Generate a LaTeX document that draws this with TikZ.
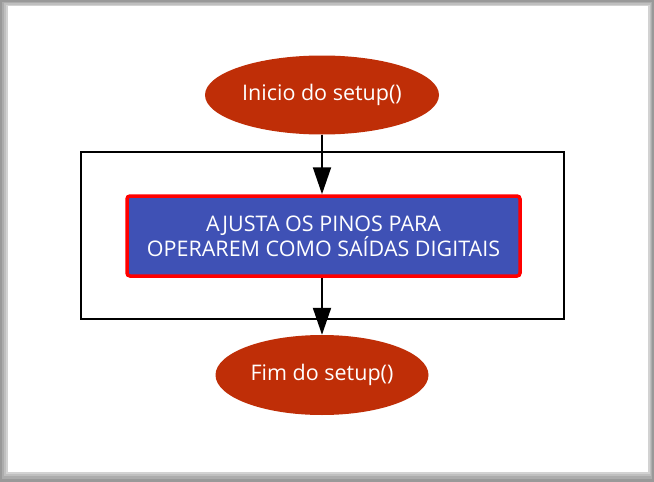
\documentclass[tikz,border=0pt]{standalone}
\usepackage{fontspec}
\setmainfont{Open Sans}
\usetikzlibrary{shapes.geometric,arrows.meta}
\definecolor{termred}{HTML}{BF2E07}
\definecolor{procblue}{HTML}{3F51B5}
\tikzset{
  terminal/.style={ellipse, fill=termred, draw=none, text=white, inner sep=0pt, font=\fontsize{21.5}{25}\selectfont},
  process/.style={rectangle, rounded corners=3pt, fill=procblue, draw=red, line width=3.5pt, text=white, inner sep=0pt, align=center, font=\fontsize{21.5}{24}\selectfont},
  flow/.style={line width=2pt, -{Triangle[length=27pt,width=18pt]}},
  group/.style={draw=black, line width=1.8pt}
}
\begin{document}
\begin{tikzpicture}[x=1pt,y=-1pt]
  \useasboundingbox (0,0) rectangle (654,482);
  % shadowed page frame
  \fill[gray!80] (0,0) rectangle (654,482);
  \fill[gray!65] (2,2) rectangle (652,479);
  \fill[gray!50] (4,3) rectangle (651,476);
  \fill[gray!35] (6,5) rectangle (650,474);
  \fill[white] (8,6) rectangle (648,472);
  % group rectangle
  \draw[group] (81,152) rectangle (564,319);
  % nodes
  \node[terminal, minimum width=234pt, minimum height=79pt] (start) at (322,95) {Inicio do setup()};
  \node[process, minimum width=393pt, minimum height=80pt] (proc) at (323.5,236) {AJUSTA OS PINOS PARA\\OPERAREM COMO SAÍDAS DIGITAIS};
  \node[terminal, minimum width=213pt, minimum height=80pt] (end) at (322,375) {Fim do setup()};
  % connectors
  \draw[flow] (start.south) -- (proc.north -| start.south);
  \draw[flow] (proc.south -| end.north) -- (end.north);
\end{tikzpicture}
\end{document}
